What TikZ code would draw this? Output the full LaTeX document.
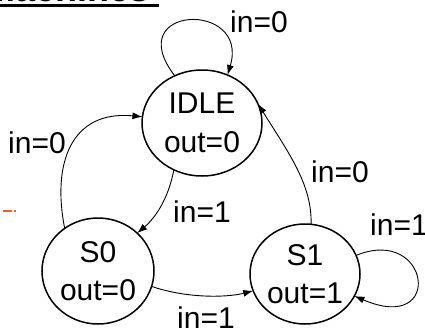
\documentclass[tikz,border=0pt]{standalone}
\usepackage{fontspec}
\setmainfont{Liberation Sans}
\usetikzlibrary{shapes.geometric,arrows.meta}
\tikzset{
  stnode/.style={ellipse, draw, line width=1.5pt, inner sep=0pt, outer sep=0pt,
    align=center, font=\fontsize{30}{38.5}\selectfont},
  lbl/.style={inner sep=0pt, font=\fontsize{30}{36}\selectfont},
  trans/.style={line width=0.9pt, -{Latex[length=10pt,width=7pt]}}
}
\begin{document}
\begin{tikzpicture}[x=1pt,y=-1pt]
\useasboundingbox (0,0) rectangle (425,329);
\clip (0,0) rectangle (425,329);
% cut-off title
\node[anchor=base east, inner sep=0pt, font=\bfseries\fontsize{36}{40}\selectfont] (title) at (150,1.5) {Machines};
\fill (0,4) rectangle (159,7.3);
% orange mark
\draw[line width=1.6pt, color={rgb,255:red,255;green,90;blue,20}] (3,211) -- (12,211) (14,211) -- (16,211);
% states
\node[stnode, minimum width=120pt, minimum height=106pt] (idle) at (202,123) {IDLE\\out=0};
\node[stnode, minimum width=112pt, minimum height=106pt] (s0) at (98,271) {S0\\out=0};
\node[stnode, minimum width=110pt, minimum height=100pt] (s1) at (305,274) {S1\\out=1};
% transitions
\draw[trans] (idle.120) .. controls (120,5) and (250,0) .. (idle.62);
\draw[trans] (idle.-121) .. controls (168,200) and (155,218) .. (s0.44);
\draw[trans] (s0.128) .. controls (52,165) and (70,110) .. (idle.174);
\draw[trans] (s0.-16) .. controls (185,298) and (225,298) .. (s1.-162);
\draw[trans] (s1.83) .. controls (312,185) and (290,155) .. (idle.19);
\draw[trans] (s1.20) .. controls (430,225) and (445,335) .. (s1.-24);
% labels
\node[lbl] (l1) at (259,22) {in=0};
\node[lbl] (l2) at (37,143) {in=0};
\node[lbl] (l3) at (202,212) {in=1};
\node[lbl] (l4) at (340,172) {in=0};
\node[lbl] (l5) at (399,225) {in=1};
\node[lbl] (l6) at (206,318) {in=1};
\end{tikzpicture}
\end{document}
